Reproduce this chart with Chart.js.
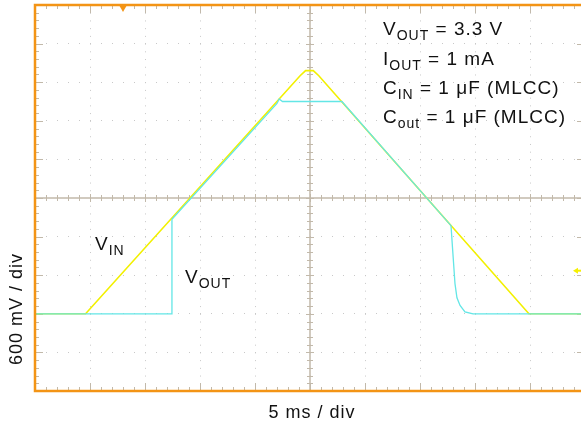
<!DOCTYPE html>
<html>
<head>
<meta charset="utf-8">
<script src="https://cdn.jsdelivr.net/npm/chart.js@4.4.1/dist/chart.umd.min.js"></script>
<style>
  html, body { margin: 0; padding: 0; background: #fff; overflow: hidden; }
  #wrap { width: 590px; height: 425px; }
</style>
</head>
<body>
<div id="wrap"><canvas id="scope" width="590" height="425"></canvas></div>
<script>
// VIN ramp (time in ms, level in V)
const vinTime  = [0, 4.6, 24.1, 24.6, 25.3, 25.8, 44.9, 50];
const vinVolts = [0, 0,   3.70, 3.78, 3.78, 3.70, 0,    0];

// VOUT: off until enable, tracks VIN, regulates at 3.3 V, then discharges
const voutTime  = [0, 12.45, 12.45, 22.0, 22.2, 22.5, 27.9, 37.82, 37.97, 38.18, 38.36, 38.64, 39.09, 39.82, 50];
const voutVolts = [0, 0,     1.47,  3.27, 3.34, 3.30, 3.30, 1.37,  0.99,  0.47,  0.25,  0.13,  0.03,  0,     0];

// screen: 10 x 10 divisions, 5 ms/div and 600 mV/div
const xMin = 0, xMax = 50, xDiv = 5;
const yMin = -1.2, yMax = 4.8, yDiv = 0.6;
const triggerTime = 8;      // ms
const triggerLevel = 0.67;  // V

const FONT = '"Liberation Sans", Arial, Helvetica, sans-serif';
const ORANGE = '#f39415';
const TICK = '#c2b9aa';
const YELLOW = '#f2f000';
const CYAN = '#63e6e6';

function toPoints(xs, ys) {
    return xs.map((x, i) => ({ x: x, y: ys[i] }));
}

// text with a subscript part
function drawRich(ctx, parts, x, y, size) {
    let cx = x;
    parts.forEach(p => {
        const s = p.sub ? Math.round(size * 0.76) : size;
        ctx.font = s + 'px ' + FONT;
        ctx.fillText(p.text, cx, y + (p.sub ? Math.round(size * 0.24) : 0));
        cx += ctx.measureText(p.text).width;
    });
}

const scopeFrame = {
    id: 'scopeFrame',
    beforeDatasetsDraw(chart) {
        const ctx = chart.ctx;
        const xs = chart.scales.x, ys = chart.scales.y;
        const a = chart.chartArea;
        const cx = xs.getPixelForValue((xMin + xMax) / 2);
        const cy = ys.getPixelForValue((yMin + yMax) / 2);
        ctx.save();
        ctx.strokeStyle = TICK;
        ctx.lineWidth = 1.5;
        ctx.beginPath();
        ctx.moveTo(a.left, cy); ctx.lineTo(a.right, cy);
        ctx.moveTo(cx, a.top); ctx.lineTo(cx, a.bottom);
        ctx.stroke();
        ctx.lineWidth = 1;
        ctx.beginPath();
        // minor ticks on the centre axes and along the frame
        for (let i = 0; i <= 50; i++) {
            const v = xMin + i * xDiv / 5;
            const px = Math.round(xs.getPixelForValue(v)) + 0.5;
            const len = i % 5 === 0 ? 4 : 3;
            ctx.moveTo(px, cy - len); ctx.lineTo(px, cy + len);
            const e = i % 5 === 0 ? 8 : 4;
            ctx.moveTo(px, a.top); ctx.lineTo(px, a.top + e);
            ctx.moveTo(px, a.bottom); ctx.lineTo(px, a.bottom - e);
        }
        for (let i = 0; i <= 50; i++) {
            const v = yMin + i * yDiv / 5;
            const py = Math.round(ys.getPixelForValue(v)) + 0.5;
            const len = i % 5 === 0 ? 4 : 3;
            ctx.moveTo(cx - len, py); ctx.lineTo(cx + len, py);
            const e = i % 5 === 0 ? 8 : 4;
            ctx.moveTo(a.left, py); ctx.lineTo(a.left + e, py);
            ctx.moveTo(a.right, py); ctx.lineTo(a.right - e, py);
        }
        ctx.stroke();
        ctx.restore();
    },
    afterDraw(chart) {
        const ctx = chart.ctx;
        const xs = chart.scales.x, ys = chart.scales.y;
        const a = chart.chartArea;
        ctx.save();
        // orange frame
        ctx.strokeStyle = ORANGE;
        ctx.lineWidth = 2.5;
        ctx.strokeRect(a.left, a.top, a.right - a.left, a.bottom - a.top);

        // trigger position marker (top) and trigger level marker (right)
        const tx = xs.getPixelForValue(triggerTime);
        ctx.fillStyle = ORANGE;
        ctx.beginPath();
        ctx.moveTo(tx - 4, a.top); ctx.lineTo(tx + 4, a.top); ctx.lineTo(tx, a.top + 7);
        ctx.closePath(); ctx.fill();
        const ty = ys.getPixelForValue(triggerLevel);
        ctx.fillStyle = '#f5f000';
        ctx.beginPath();
        ctx.moveTo(573, ty); ctx.lineTo(578, ty - 3); ctx.lineTo(578, ty + 3);
        ctx.closePath(); ctx.fill();
        ctx.fillRect(577, ty - 1, 6, 2);

        // annotations
        ctx.fillStyle = '#111';
        ctx.textBaseline = 'alphabetic';
        ctx.textAlign = 'left';
        ctx.letterSpacing = '1px';
        const size = 19;
        drawRich(ctx, [{ text: 'V' }, { text: 'OUT', sub: true }, { text: ' = 3.3 V' }], 383, 35, size);
        drawRich(ctx, [{ text: 'I' }, { text: 'OUT', sub: true }, { text: ' = 1 mA' }], 383, 65, size);
        drawRich(ctx, [{ text: 'C' }, { text: 'IN', sub: true }, { text: ' = 1 μF (MLCC)' }], 383, 94, size);
        drawRich(ctx, [{ text: 'C' }, { text: 'out', sub: true }, { text: ' = 1 μF (MLCC)' }], 383, 123, size);
        drawRich(ctx, [{ text: 'V' }, { text: 'IN', sub: true }], 95, 250, size);
        drawRich(ctx, [{ text: 'V' }, { text: 'OUT', sub: true }], 185, 283, size);

        // axis captions
        ctx.font = '18px ' + FONT;
        ctx.textAlign = 'center';
        ctx.fillText('5 ms / div', 312, 418);
        ctx.translate(22, 309);
        ctx.rotate(-Math.PI / 2);
        ctx.fillText('600 mV / div', 0, 0);
        ctx.restore();
    }
};

new Chart(document.getElementById('scope'), {
    type: 'line',
    data: {
        datasets: [
            {
                label: 'VOUT',
                data: toPoints(voutTime, voutVolts),
                borderColor: CYAN,
                borderWidth: 1.3,
                pointRadius: 0,
                tension: 0
            },
            {
                label: 'VIN',
                data: toPoints(vinTime, vinVolts),
                borderColor: YELLOW,
                borderWidth: 1.6,
                pointRadius: 0,
                tension: 0
            }
        ]
    },
    plugins: [scopeFrame],
    options: {
        responsive: false,
        animation: false,
        devicePixelRatio: 1,
        layout: { padding: { left: 35, top: 5, right: 5, bottom: 34 } },
        plugins: { legend: { display: false }, tooltip: { enabled: false } },
        scales: {
            x: {
                type: 'linear',
                min: xMin, max: xMax,
                ticks: { display: false, stepSize: xDiv },
                grid: { color: '#c8c8c8', lineWidth: 1, drawTicks: false },
                border: { display: false, dash: [1, 6.72] }
            },
            y: {
                type: 'linear',
                min: yMin, max: yMax,
                ticks: { display: false, stepSize: yDiv },
                grid: { color: '#c8c8c8', lineWidth: 1, drawTicks: false },
                border: { display: false, dash: [1, 10] }
            }
        }
    }
});
</script>
</body>
</html>
